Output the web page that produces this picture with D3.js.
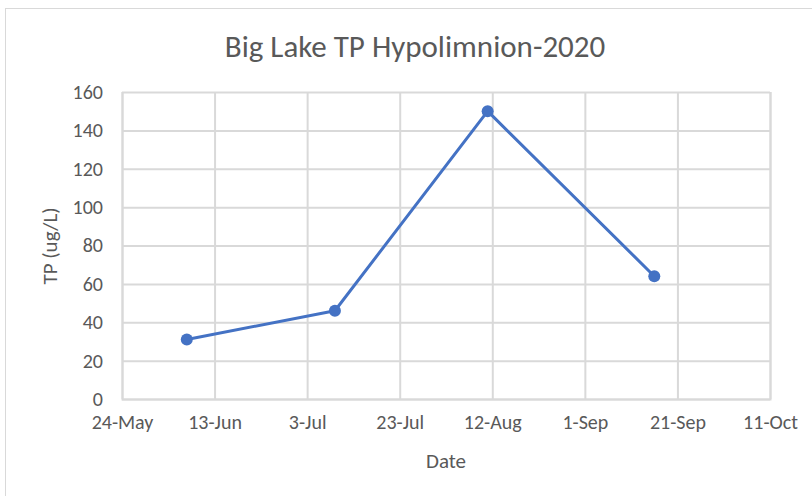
<!DOCTYPE html>
<html>
<head>
<meta charset="utf-8">
<style>
  body { margin: 0; background: #fff; }
  svg text { font-family: Carlito, "Open Sans", "Liberation Sans", sans-serif; fill: #595959; }
</style>
</head>
<body>
<svg id="chart" width="812" height="496"></svg>
<script src="https://cdn.jsdelivr.net/npm/d3@7/dist/d3.min.js"></script>
<script>
// sample dates and TP values (ug/L)
var dates = ["2020-06-07", "2020-07-09", "2020-08-11", "2020-09-16"];
var tpValues = [31, 46, 150, 64];
var xTicks = ["2020-05-24", "2020-06-13", "2020-07-03", "2020-07-23", "2020-08-12", "2020-09-01", "2020-09-21", "2020-10-11"];
var yTicks = [0, 20, 40, 60, 80, 100, 120, 140, 160];

var parse = d3.timeParse("%Y-%m-%d");
var data = dates.map(function (d, i) { return {date: parse(d), tp: tpValues[i]}; });

var svg = d3.select("#chart");
var margin = {left: 122, right: 42, top: 92, bottom: 97};
var width = 812 - margin.left - margin.right,
    height = 496 - margin.top - margin.bottom;

// chart frame
svg.append("rect")
    .attr("x", 5.5).attr("y", 8.5)
    .attr("width", 820).attr("height", 500)
    .attr("fill", "none").attr("stroke", "#d9d9d9");

var x = d3.scaleTime()
    .domain([parse(xTicks[0]), parse(xTicks[xTicks.length - 1])])
    .range([0, width]);
var y = d3.scaleLinear().domain([0, 160]).range([height, 0]);

var g = svg.append("g").attr("transform", "translate(" + margin.left + "," + margin.top + ")");

// gridlines
g.append("g")
    .attr("transform", "translate(0," + height + ")")
    .call(d3.axisBottom(x).tickValues(xTicks.map(parse)).tickSize(-height).tickFormat(d3.timeFormat("%-d-%b")).tickPadding(16))
    .call(function (s) {
        s.select(".domain").attr("stroke", "#d9d9d9").attr("stroke-width", 2);
        s.selectAll(".tick line").attr("stroke", "#d9d9d9").attr("stroke-width", 2);
        s.selectAll(".tick text").style("font-size", "20px").attr("fill", "#595959");
    });

g.append("g")
    .call(d3.axisLeft(y).tickValues(yTicks).tickSize(-width).tickPadding(19))
    .call(function (s) {
        s.select(".domain").remove();
        s.selectAll(".tick line").attr("stroke", "#d9d9d9").attr("stroke-width", 2);
        s.selectAll(".tick text").style("font-size", "20px").attr("fill", "#595959");
    });

// line + markers
var line = d3.line()
    .x(function (d) { return x(d.date); })
    .y(function (d) { return y(d.tp); });

g.append("path")
    .datum(data)
    .attr("d", line)
    .attr("fill", "none")
    .attr("stroke", "#4472c4")
    .attr("stroke-width", 3)
    .attr("stroke-linejoin", "round");

g.selectAll(".dot")
    .data(data)
    .enter().append("circle")
    .attr("class", "dot")
    .attr("cx", function (d) { return x(d.date); })
    .attr("cy", function (d) { return y(d.tp); })
    .attr("r", 6)
    .attr("fill", "#4472c4");

// titles
svg.append("text")
    .attr("x", 415).attr("y", 57)
    .attr("text-anchor", "middle")
    .style("font-size", "31px")
    .text("Big Lake TP Hypolimnion-2020");

svg.append("text")
    .attr("x", 446).attr("y", 468)
    .attr("text-anchor", "middle")
    .style("font-size", "21px")
    .text("Date");

svg.append("text")
    .attr("transform", "translate(57,246) rotate(-90)")
    .attr("text-anchor", "middle")
    .style("font-size", "21px")
    .text("TP (ug/L)");
</script>
</body>
</html>
